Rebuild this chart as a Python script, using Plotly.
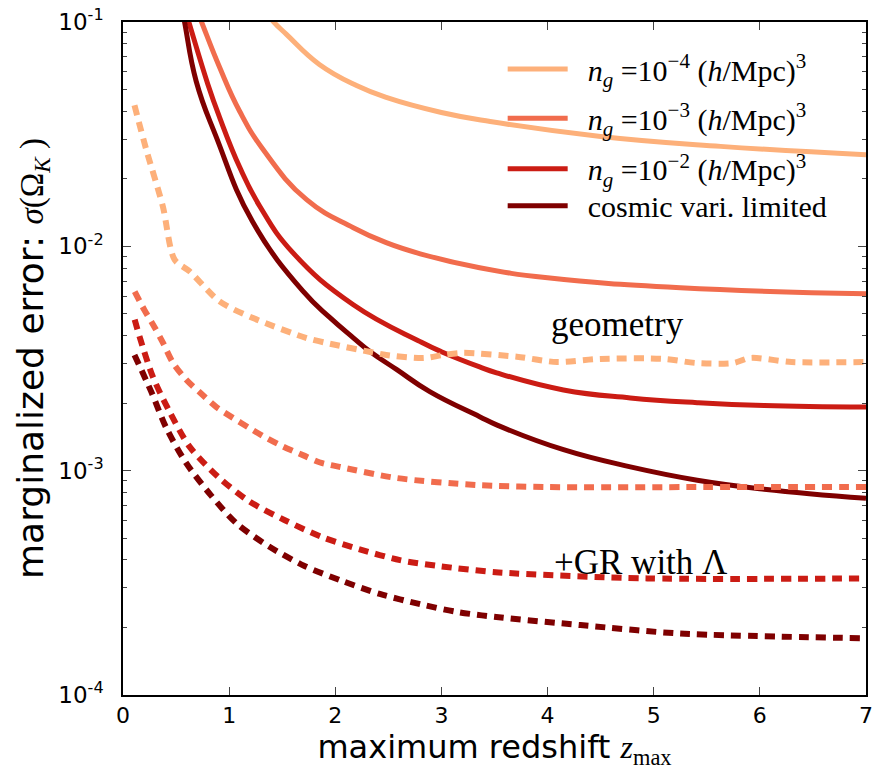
import plotly.graph_objects as go

# ---- data ----
z_ng4 = [1.32, 1.42, 1.54, 1.85, 2.2, 2.48, 3.0, 3.46, 4.5, 5.63, 7.0]
s_ng4 = [0.1145, 0.1, 0.0881, 0.0647, 0.0521, 0.0461, 0.0395, 0.0360, 0.0309, 0.0279, 0.0256]

z_ng3 = [0.70, 0.74, 0.91, 1.10, 1.32, 1.73, 2.17, 2.48, 2.8, 3.36, 4.0, 5.25, 7.0]
s_ng3 = [0.1115, 0.1, 0.0628, 0.0399, 0.0270, 0.01614, 0.01211, 0.01038, 0.00926, 0.00803,
         0.00724, 0.00654, 0.00615]

z_ng2 = [0.58, 0.62, 0.80, 0.91, 1.10, 1.29, 1.60, 2.17, 2.8, 3.0, 3.36, 3.52, 4.15, 4.78,
         5.41, 6.04, 7.0]
s_ng2 = [0.1155, 0.1, 0.0527, 0.0376, 0.0225, 0.01505, 0.00937, 0.00549, 0.00376, 0.00339,
         0.00290, 0.00273, 0.00229, 0.00211, 0.00201, 0.00195, 0.00192]

z_cv = [0.54, 0.58, 0.69, 0.88, 1.22, 1.70, 1.95, 2.17, 2.33, 2.58, 2.89, 3.36, 3.52, 4.15,
        4.78, 5.41, 6.04, 7.0]
s_cv = [0.125, 0.1, 0.0543, 0.0306, 0.0129, 0.00628, 0.00481, 0.00391, 0.00339, 0.00282,
        0.00225, 0.00174, 0.00160, 0.00124, 0.00104, 0.000907, 0.000827, 0.000753]

z_geo = [0.108, 0.219, 0.375, 0.486, 0.627, 0.91, 1.225, 1.73, 1.95, 2.32, 2.48, 2.83, 3.02,
         3.2, 3.71, 4.09, 4.5, 5.09, 5.4, 5.75, 5.91, 6.3, 7.0]
d_geo = [0.0425, 0.0270, 0.0151, 0.00872, 0.00774, 0.00568, 0.00479, 0.00390, 0.00368,
         0.00339, 0.00328, 0.00318, 0.00328, 0.00335, 0.00322, 0.00305, 0.00315, 0.00315,
         0.00302, 0.00302, 0.00318, 0.00305, 0.00305]

z_gr3 = [0.11, 0.2, 0.3, 0.376, 0.47, 0.596, 0.72, 0.88, 1.036, 1.19, 1.35, 1.51, 1.70, 1.85,
         2.04, 2.58, 3.33, 4.0, 5.5, 7.0]
d_gr3 = [0.00628, 0.00522, 0.00434, 0.00372, 0.00303, 0.00254, 0.00224, 0.00192, 0.00172,
         0.00155, 0.00140, 0.00128, 0.00117, 0.00109, 0.00104, 0.000927, 0.000863, 0.000845,
         0.000845, 0.000845]

z_gr2 = [0.11, 0.156, 0.28, 0.439, 0.627, 0.894, 1.193, 1.52, 1.87, 2.23, 2.61, 2.97, 3.54,
         4.94, 7.0]
d_gr2 = [0.00471, 0.00396, 0.00263, 0.00183, 0.00128, 0.00094, 0.000728, 0.000603, 0.000507,
         0.000446, 0.000399, 0.000376, 0.000352, 0.000331, 0.000331]

z_grcv = [0.108, 0.266, 0.408, 0.596, 0.825, 1.07, 1.38, 1.71, 2.06, 2.42, 2.80, 3.16, 3.54,
          4.31, 5.25, 7.0]
d_grcv = [0.00328, 0.00225, 0.00155, 0.00108, 0.000780, 0.000582, 0.000458, 0.000376,
          0.000323, 0.000282, 0.000254, 0.000234, 0.000222, 0.000205, 0.000188, 0.000179]

labels = [
    "&nbsp;&nbsp;<i>n</i><sub><i>g</i></sub> =10<sup>−4</sup> (<i>h</i>/Mpc)<sup>3</sup>",
    "&nbsp;&nbsp;<i>n</i><sub><i>g</i></sub> =10<sup>−3</sup> (<i>h</i>/Mpc)<sup>3</sup>",
    "&nbsp;&nbsp;<i>n</i><sub><i>g</i></sub> =10<sup>−2</sup> (<i>h</i>/Mpc)<sup>3</sup>",
    "&nbsp;&nbsp;cosmic vari. limited",
]
colors = ["#fdb07a", "#f16c4d", "#cb1c14", "#7f0000"]

x_ticks = [0, 1, 2, 3, 4, 5, 6, 7]
y_ticks = [1e-4, 1e-3, 1e-2, 1e-1]
y_ticktext = ["10<sup>-4</sup>", "10<sup>-3</sup>", "10<sup>-2</sup>", "10<sup>-1</sup>"]

solids = [(z_ng4, s_ng4), (z_ng3, s_ng3), (z_ng2, s_ng2), (z_cv, s_cv)]
dashes = [(z_geo, d_geo), (z_gr3, d_gr3), (z_gr2, d_gr2), (z_grcv, d_grcv)]
legend_ids = ["legend", "legend2", "legend3", "legend4"]
legend_y = [0.930, 0.857, 0.782, 0.727]

fig = go.Figure()
for (zx, zy), lab, c, lid in zip(solids, labels, colors, legend_ids):
    fig.add_trace(go.Scatter(x=zx, y=zy, mode="lines", name=lab, legend=lid,
                             line=dict(color=c, width=5, shape="spline", smoothing=1.3)))
for (zx, zy), c in zip(dashes, colors):
    fig.add_trace(go.Scatter(x=zx, y=zy, mode="lines", showlegend=False,
                             line=dict(color=c, width=6, dash="10px,7px",
                                       shape="spline", smoothing=0.8)))

minor_y = [m * 10 ** e for e in (-4, -3, -2) for m in range(2, 10)]

legend_style = dict(x=0.511, xanchor="left", yanchor="middle",
                    bgcolor="rgba(0,0,0,0)", borderwidth=0,
                    font=dict(family="Liberation Serif", size=30, color="black"),
                    itemwidth=60)
legends = {lid: dict(legend_style, y=ly) for lid, ly in zip(legend_ids, legend_y)}

fig.update_layout(
    width=873, height=774,
    margin=dict(l=123, r=7, t=22, b=79),
    paper_bgcolor="white", plot_bgcolor="white",
    font=dict(family="DejaVu Sans", color="black"),
    showlegend=True,
    **legends,
    xaxis=dict(range=[0, 7], tickvals=x_ticks, ticks="inside", ticklen=8, tickwidth=1,
               showline=True, linecolor="black", linewidth=1.5, mirror="ticks",
               showgrid=False, zeroline=False, tickfont=dict(size=22),
               ticklabelstandoff=0, automargin=False,
               title=dict(text="maximum redshift <i><span style='font-family:Liberation Serif'>z</span></i><sub><span style='font-family:Liberation Serif'>max</span></sub>",
                          font=dict(size=32), standoff=0)),
    yaxis=dict(type="log", range=[-4, -1], tickvals=y_ticks, ticktext=y_ticktext,
               ticks="inside", ticklen=8, tickwidth=1,
               showline=True, linecolor="black", linewidth=1.5, mirror="ticks",
               showgrid=False, zeroline=False, tickfont=dict(size=23),
               ticklabelstandoff=13, automargin=False,
               minor=dict(tickvals=minor_y, ticks="inside", ticklen=4, tickwidth=1,
                          showgrid=False),
               title=dict(text="marginalized error: <span style='font-family:Liberation Serif;font-size:33px'><i>σ</i>(Ω<sub><i>K</i></sub> )</span>",
                          font=dict(size=36), standoff=4)),
)

fig.add_annotation(x=4.66, y=-2.35, text="geometry", showarrow=False,
                   font=dict(family="Liberation Serif", size=35, color="black"))
fig.add_annotation(x=4.88, y=-3.41, text="+GR with Λ", showarrow=False,
                   font=dict(family="Liberation Serif", size=35, color="black"))

fig.write_html("out.html", config={"displayModeBar": False},
               post_script="document.body.style.margin='0px';")
